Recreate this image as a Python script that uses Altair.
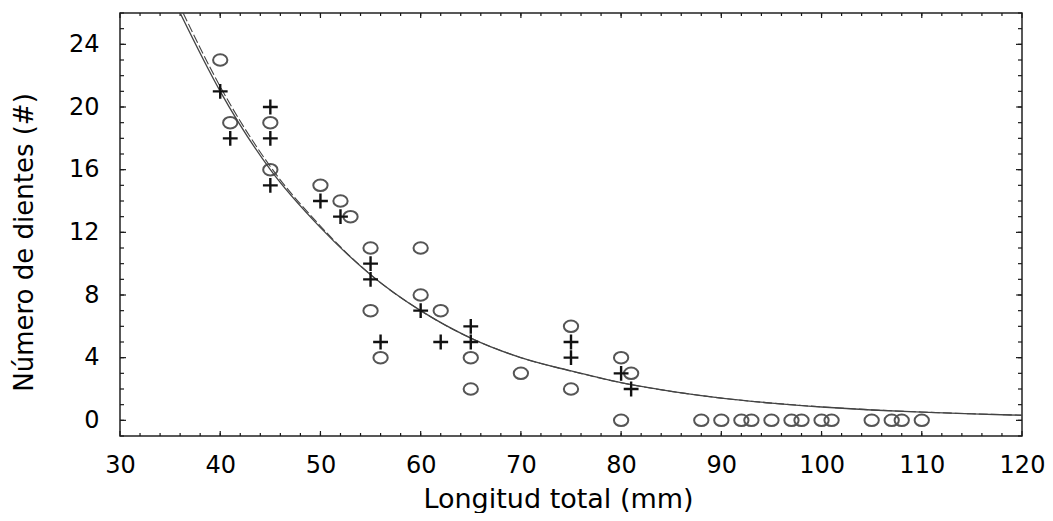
import altair as alt
import pandas as pd

# ---- data ----
circle_x = [40, 41, 45, 45, 50, 52, 53, 55, 55, 56, 60, 60, 62, 65, 65, 70, 75, 75, 80, 80, 81,
            88, 90, 92, 93, 95, 97, 98, 100, 101, 105, 107, 108, 110]
circle_y = [23, 19, 19, 16, 15, 14, 13, 11, 7, 4, 11, 8, 7, 4, 2, 3, 6, 2, 4, 0, 3,
            0, 0, 0, 0, 0, 0, 0, 0, 0, 0, 0, 0, 0]

plus_x = [40, 41, 45, 45, 45, 50, 52, 55, 55, 56, 60, 62, 65, 65, 75, 75, 80, 81]
plus_y = [21, 18, 20, 18, 15, 14, 13, 10, 9, 5, 7, 5, 6, 5, 5, 4, 3, 2]

# fitted curves
solid_x = [36.0, 40, 45, 50, 55, 60, 65, 70, 75, 80, 85, 90, 95, 100, 105, 110, 115, 120]
solid_y = [26.0, 21.0, 16.0, 12.3, 9.3, 7.0, 5.25, 4.0, 3.15, 2.4, 1.85, 1.42, 1.1, 0.85, 0.66, 0.52, 0.41, 0.32]
dash_x = [36.3, 40, 45, 50, 55, 60, 65, 70, 75, 80, 85, 90, 95, 100, 105, 110, 115, 120]
dash_y = [26.0, 21.3, 16.2, 12.4, 9.3, 7.0, 5.25, 4.0, 3.15, 2.4, 1.85, 1.42, 1.1, 0.86, 0.67, 0.53, 0.42, 0.33]

x_labels = [30, 40, 50, 60, 70, 80, 90, 100, 110, 120]
y_labels = [0, 4, 8, 12, 16, 20, 24]
x_minor = list(range(32, 120, 2))
y_minor = list(range(-1, 27, 1))

X_TITLE = "Longitud total (mm)"
Y_TITLE = "Número de dientes (#)"

# ---- layout ----
W, H = 902, 423
FONT = "DejaVu Sans"
INK = "#1a1a1a"

xs = alt.Scale(domain=[30, 120], nice=False, zero=False)
ys = alt.Scale(domain=[-1, 26], nice=False, zero=False)

circles = pd.DataFrame({"x": circle_x, "y": circle_y})
pluses = pd.DataFrame({"x": plus_x, "y": plus_y})
solid = pd.DataFrame({"x": solid_x, "y": solid_y})
dashed = pd.DataFrame({"x": dash_x, "y": dash_y})

ELLIPSE = "M-1,0A1,0.8,0,1,1,1,0A1,0.8,0,1,1,-1,0Z"
PLUS = "M-1,0L1,0M0,-1L0,1"

XENC = alt.X("x:Q", scale=xs, title=X_TITLE, axis=alt.Axis(values=x_labels, title=X_TITLE))
YENC = alt.Y("y:Q", scale=ys, title=Y_TITLE, axis=alt.Axis(values=y_labels, title=Y_TITLE))

circle_layer = alt.Chart(circles).mark_point(
    shape=ELLIPSE, filled=False, stroke="#555555", strokeWidth=2, size=205, opacity=1
).encode(x=XENC, y=YENC)

plus_layer = alt.Chart(pluses).mark_point(
    shape=PLUS, filled=False, stroke="#111111", strokeWidth=2.4, size=220, opacity=1
).encode(x=XENC, y=YENC)

solid_layer = alt.Chart(solid).mark_line(
    color="#444444", strokeWidth=1.3, clip=True, interpolate="monotone"
).encode(x=XENC, y=YENC)
dash_layer = alt.Chart(dashed).mark_line(
    color="#444444", strokeWidth=1.1, strokeDash=[9, 3], clip=True, interpolate="monotone"
).encode(x=XENC, y=YENC)


def xticks(vals, length, top):
    d = pd.DataFrame({"x": vals})
    y0 = 0 if top else H
    y1 = length if top else H - length
    return alt.Chart(d).mark_rule(color=INK, strokeWidth=1.2).encode(
        x=XENC, y=alt.value(y0), y2=alt.value(y1)
    )


def yticks(vals, length, right):
    d = pd.DataFrame({"y": vals})
    x0 = W if right else 0
    x1 = W - length if right else length
    return alt.Chart(d).mark_rule(color=INK, strokeWidth=1.2).encode(
        y=YENC, x=alt.value(x0), x2=alt.value(x1)
    )


ticks = [
    xticks(x_minor, 3, False), xticks(x_labels, 5, False),
    xticks(x_minor, 3, True), xticks(x_labels, 5, True),
    yticks(y_minor, 4, False), yticks(y_labels, 6, False),
    yticks(y_minor, 4, True), yticks(y_labels, 6, True),
]

chart = alt.layer(
    circle_layer, *ticks, solid_layer, dash_layer, plus_layer
).properties(
    width=W, height=H,
    autosize=alt.AutoSizeParams(type="none"),
    padding={"left": 112, "top": 5, "right": 23, "bottom": 77},
    background="white",
).configure_view(
    stroke="#222222", strokeWidth=1.5
).configure_axisX(
    ticks=False, domain=False, grid=False,
    labelFont=FONT, labelFontSize=24, labelColor="#000", labelPadding=17,
    labelFlush=False, labelOverlap=False,
    titleFont=FONT, titleFontSize=27, titleFontWeight="normal",
    titleColor="#000", titleX=438, titleY=71, titleAlign="center",
    titleBaseline="alphabetic",
).configure_axisY(
    ticks=False, domain=False, grid=False,
    labelFont=FONT, labelFontSize=24, labelColor="#000", labelPadding=21,
    labelFlush=False, labelOverlap=False,
    titleFont=FONT, titleFontSize=26, titleFontWeight="normal",
    titleColor="#000", titleX=-88, titleY=229, titleAngle=270, titleAlign="center",
    titleBaseline="alphabetic",
)

chart.save("out.html", embed_options={"renderer": "svg", "actions": False})
